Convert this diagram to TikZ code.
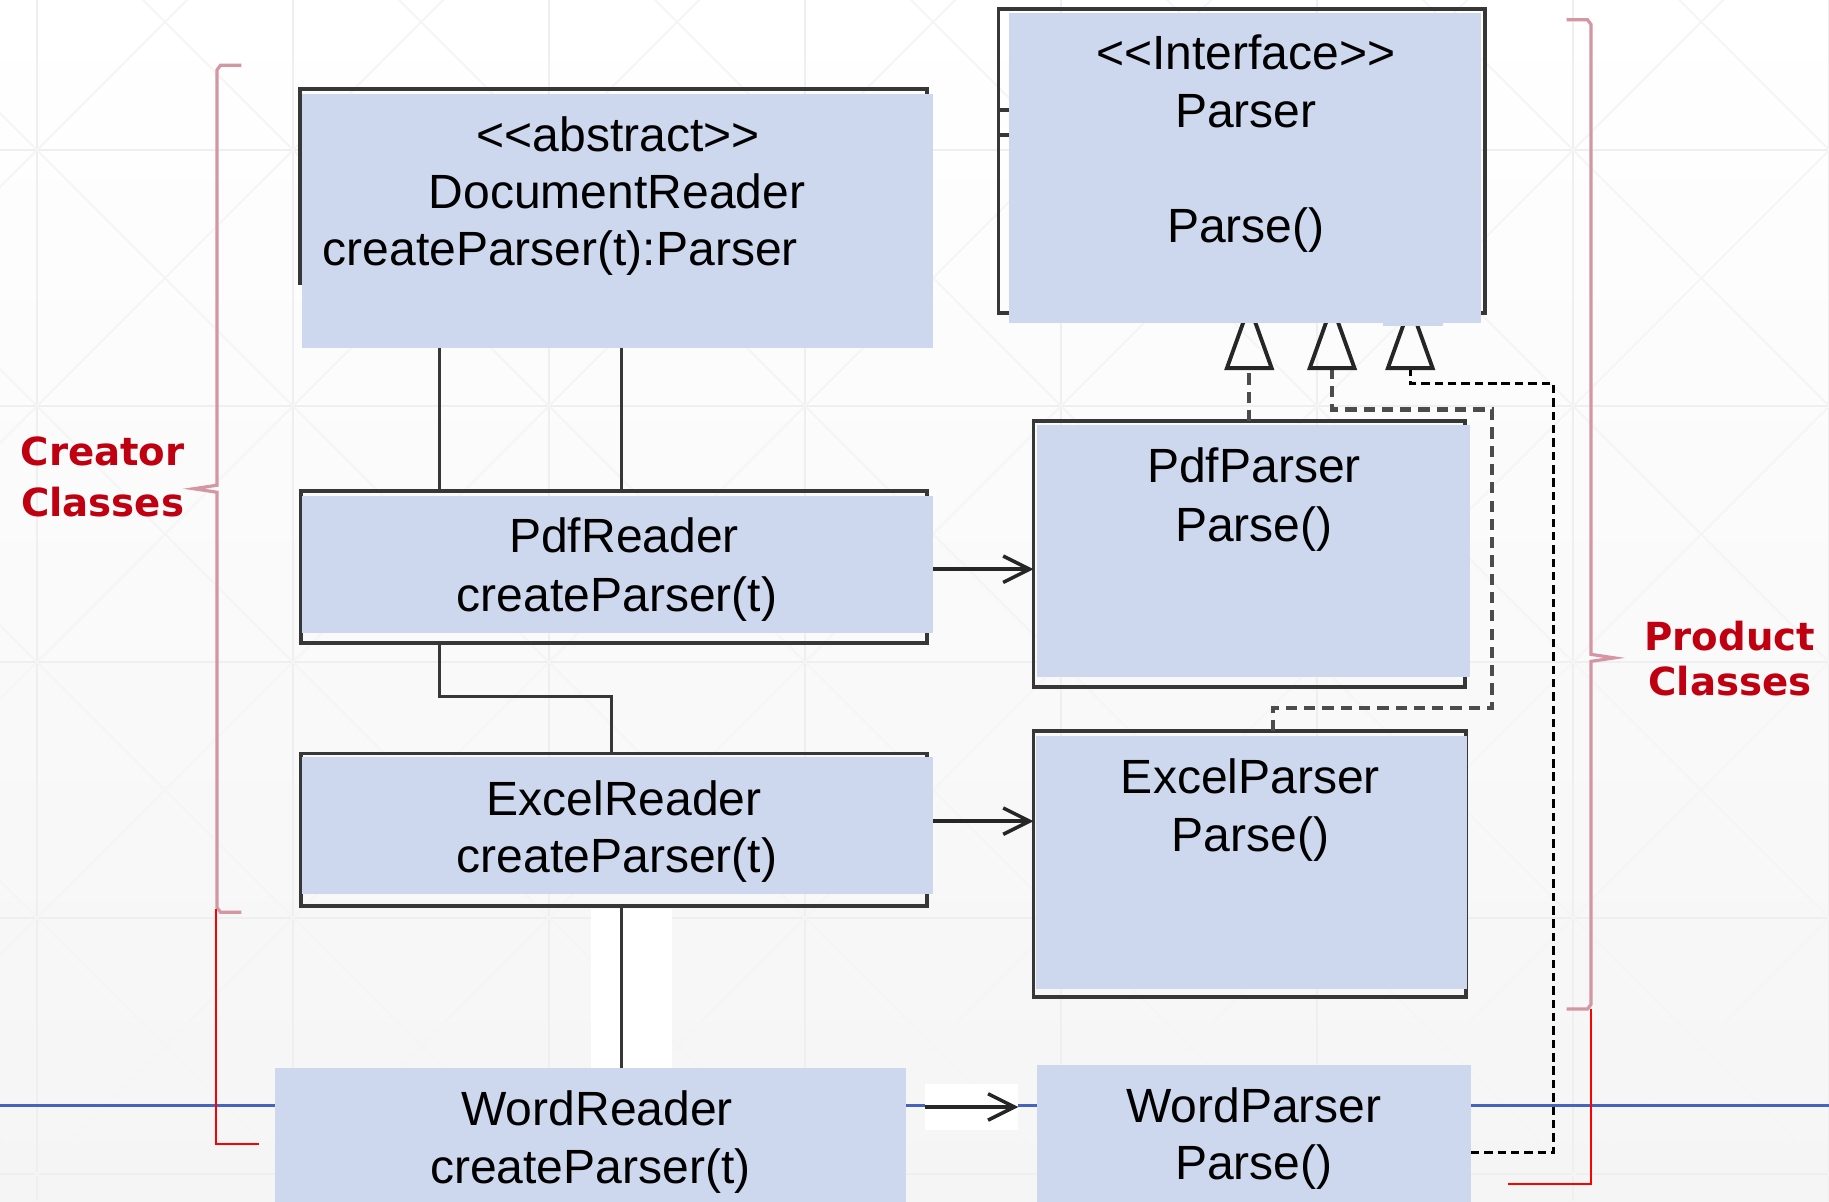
\documentclass[tikz,border=0pt]{standalone}
\usepackage{fontspec}
\setmainfont{Liberation Sans}[Ligatures=TeXOff]
\newfontfamily\tagfont{DejaVu Sans}
\usetikzlibrary{arrows.meta,calc,fit}

\definecolor{classblue}{RGB}{205,216,238}
\definecolor{framegray}{RGB}{55,55,55}
\definecolor{rulerblue}{RGB}{70,100,190}
\definecolor{tagred}{RGB}{192,0,16}
\definecolor{bracepink}{RGB}{212,150,162}
\definecolor{gridgray}{RGB}{239,239,239}
\definecolor{slidegray}{RGB}{245,245,245}

\tikzset{
  classframe/.style={draw=framegray, line width=1.1pt, inner sep=0pt, outer sep=0pt},
  classfill/.style={fill=classblue, inner sep=0pt, outer sep=0pt},
  member/.style={anchor=base, inner sep=0pt, font=\fontsize{13.66pt}{16.5pt}\selectfont},
  tag/.style={anchor=base, inner sep=0pt, text=tagred, font=\tagfont\bfseries\fontsize{11pt}{13pt}\selectfont},
  link/.style={draw=framegray, line width=0.9pt},
  call/.style={draw=black!85, line width=1pt, -{Straight Barb[length=7.5pt, width=7.5pt]}},
  realize/.style={draw=black!70, line width=1.2pt, dash pattern=on 3.2pt off 2pt,
    -{Triangle[open, length=20pt, width=14pt, line width=1.1pt, color=black!85]}},
  realizeb/.style={draw=black, line width=0.8pt, dash pattern=on 2.4pt off 1.4pt,
    -{Triangle[open, length=20pt, width=14pt, line width=1.1pt, color=black!85]}},
  bracket/.style={draw=bracepink, line width=0.9pt},
  redguide/.style={draw=red, line width=0.6pt},
  gridline/.style={draw=gridgray, line width=0.5pt},
  ruler/.style={draw=rulerblue, line width=0.9pt},
  whitepatch/.style={fill=white, inner sep=0pt, outer sep=0pt},
}

\begin{document}
\begin{tikzpicture}[x=0.011665cm, y=-0.011665cm]
\useasboundingbox (0,0) rectangle (1568,1030);

% slide background with its faint grid
\node[fit={(0,0) (1568,1030)}, inner sep=0pt, top color=white, middle color=white, bottom color=slidegray] (slide) {};
\begin{scope}
  \clip (0,0) rectangle (1568,1030);
  \foreach \gx in {31.7,251.2,...,1570} \draw[gridline] (\gx,0) -- (\gx,1030);
  \foreach \gy in {128.6,348.1,...,1030} \draw[gridline] (0,\gy) -- (1568,\gy);
  \foreach \m in {-6,...,8}
    \draw[gridline, draw=gridgray!60] ({-146.9+219.5*\m},-50) -- ({1003.1+219.5*\m},1100);
  \foreach \m in {-1,...,13}
    \draw[gridline, draw=gridgray!60] ({210.3+219.5*\m},-50) -- ({-939.7+219.5*\m},1100);
\end{scope}
\draw[ruler] (0,948) -- (1568,948);

% class frames
\node[classframe, fit={(257,76) (795,243)}] (docframe) {};
\node[classframe, fit={(258,421) (795,551)}] (pdfreaderframe) {};
\node[classframe, fit={(258,646) (795,777)}] (excelreaderframe) {};
\node[classframe, fit={(856,8) (1273,268)}] (parserframe) {};
\draw[link, line width=1.1pt] (parserframe.west |- 0,94) -- (parserframe.center |- 0,94);
\draw[link, line width=1.1pt] (parserframe.west |- 0,116) -- (parserframe.center |- 0,116);
\node[classframe, fit={(886,361) (1256,589)}] (pdfparserframe) {};
\node[classframe, fit={(886,627) (1257,855)}] (excelparserframe) {};

\node[classfill, fit={(889,913) (1261,1035)}] (wordparser) {};

% realizations, drawn under the interface box
\coordinate (t1) at (1071,0);
\coordinate (t2) at (1142,0);
\coordinate (t3) at (1209,0);
\coordinate (r2low) at (1091,607);
\coordinate (r2side) at (1279,351);
\coordinate (r3side) at (1332,329);
\draw[realize] (pdfparserframe.north -| t1) -- ($(parserframe.south -| t1)+(0,-11)$);
\draw[realize] (excelparserframe.north -| r2low) -- (r2low) -| (r2side) -| ($(parserframe.south -| t2)+(0,-11)$);
\draw[realizeb] ($(wordparser.east)+(0,14)$) -| (r3side) -| ($(parserframe.south -| t3)+(0,-11)$);

% class bodies
\node[classfill, fit={(259,81) (800,298)}] (docreader) {};
\node[classfill, fit={(259,425) (800,543)}] (pdfreader) {};
\node[classfill, fit={(259,649) (800,766)}] (excelreader) {};
\node[classfill, fit={(236,916) (777,1035)}] (wordreader) {};
\node[classfill, fit={(865,11) (1270,277)}] (parser) {};
\node[classfill, fit={(889,364) (1260,580)}] (pdfparser) {};
\node[classfill, fit={(888,631) (1258,848)}] (excelparser) {};
\draw[classblue, line width=0.8pt] (1186,278) -- (1237,278);

\node[member] (dr-stereo) at (530,130) {<<abstract>>};
\node[member] (dr-name) at (529,179) {DocumentReader};
\node[member, anchor=base west] (dr-op) at (276,228) {createParser(t):Parser};
\node[member] (pr-name) at (535,474) {PdfReader};
\node[member] (pr-op) at (529,524) {createParser(t)};
\node[member] (er-name) at (535,699) {ExcelReader};
\node[member] (er-op) at (529,748) {createParser(t)};
\node[member] (wr-name) at (512,965) {WordReader};
\node[member] (wr-op) at (506,1015) {createParser(t)};
\node[member] (p-stereo) at (1068,60) {<<Interface>>};
\node[member] (p-name) at (1068,109) {Parser};
\node[member] (p-op) at (1068,208) {Parse()};
\node[member] (pp-name) at (1075,414) {PdfParser};
\node[member] (pp-op) at (1075,464) {Parse()};
\node[member] (ep-name) at (1072,680) {ExcelParser};
\node[member] (ep-op) at (1072,730) {Parse()};
\node[member] (wp-name) at (1075,962) {WordParser};
\node[member] (wp-op) at (1075,1011) {Parse()};

% inheritance between the readers
\coordinate (barA) at (377,0);
\coordinate (barB) at (533,0);
\coordinate (kink) at (524,597);
\draw[link] (docreader.south -| barA) -- (pdfreaderframe.north -| barA);
\draw[link] (docreader.south -| barB) -- (pdfreaderframe.north -| barB);
\draw[link] (pdfreaderframe.south -| barA) |- (kink) -- (excelreaderframe.north -| kink);
\node[whitepatch, fit={(507,779) (576,916)}] (gap) {};
\draw[link] (excelreaderframe.south -| barB) -- (wordreader.north -| barB);

% factory calls
\draw[call] ($(pdfreader.east)+(0,4)$) -- ($(pdfparserframe.west |- pdfreader.east)+(0,4)$);
\draw[call] ($(excelreader.east)+(0,-3.5)$) -- ($(excelparserframe.west |- excelreader.east)+(0,-3.5)$);
\node[whitepatch, fit={(793,929) (873,969)}] (patch) {};
\draw[call] (patch.west) -- (patch.east);

% group brackets
\draw[bracket] (207,56) -- (189,56) -- (186,60) -- (186,416) -- (166,419) -- (186,422) -- (186,778) -- (189,782) -- (207,782);
\draw[bracket] (1343,17) -- (1361,17) -- (1364,21) -- (1364,561) -- (1384,564) -- (1364,567) -- (1364,861) -- (1361,865) -- (1343,865);
\draw[redguide] (222,981) -- (185,981) -- (185,779);
\draw[redguide] (1293,1015) -- (1364,1015) -- (1364,865);

\node[tag] (creator1) at (88,399) {Creator};
\node[tag] (creator2) at (88,443) {Classes};
\node[tag] (product1) at (1483,558) {Product};
\node[tag] (product2) at (1483,596) {Classes};
\end{tikzpicture}
\end{document}
